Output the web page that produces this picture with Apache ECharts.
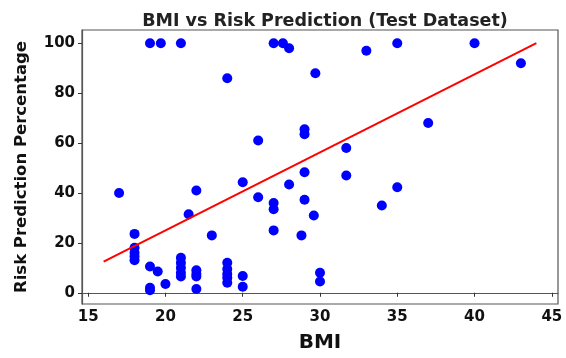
<!DOCTYPE html>
<html><head><meta charset="utf-8">
<script src="https://cdn.jsdelivr.net/npm/echarts@6/dist/echarts.min.js"></script>
<style>html,body{margin:0;padding:0;background:#fff}#c{width:566px;height:358px}</style>
</head><body><div id="c"></div>
<script>
const bmi  = [19,19.7,21,27,27.6,28,33,35,40,43,24,29.7,37,29,29,26,31.7,29,31.7,25,28,35,22,17,26,29,27,34,27,29.6,21.5,27,28.8,23,18,18,18,18,18,19,19.5,19,19,20,21,21,21,21,21,22,22,22,22,24,24,24,24,24,25,25,30,30];
const risk = [100,100,100,100,100,98,97,100,100,92,86,88,68,65.5,63.5,61,58,48.3,47,44.3,43.4,42.3,41,40,38.3,37.3,36,35,33.5,31,31.5,25,23,23,23.6,18,16,14.5,13,10.5,8.5,2,1,3.5,14,12,10,8,6.5,9,7.5,6.5,1.5,12,9.5,7.5,6,4,6.7,2.4,8,4.5];
const lineX = [16,44];
const lineY = [12.5,100];
const xTicks = [15,20,25,30,35,40,45];
const yTicks = [0,20,40,60,80,100];

const font = 'DejaVu Sans';
const chart = echarts.init(document.getElementById('c'), null, {renderer:'canvas'});
chart.setOption({
  backgroundColor:'#fff',
  animation:false,
  title:{text:'BMI vs Risk Prediction (Test Dataset)', left:320, top:7, textAlign:'center',
    textStyle:{fontFamily:font, fontWeight:'bold', fontSize:17.5, color:'#222'}},
  grid:{left:82, right:8, top:30, bottom:50, show:true, borderColor:'#555', borderWidth:1.2, backgroundColor:'#fff'},
  xAxis:{type:'value', min:14.6, max:45.4,
    name:'BMI', nameLocation:'middle', nameGap:29,
    nameTextStyle:{fontFamily:font, fontWeight:'bold', fontSize:20, color:'#111'},
    axisLine:{show:true, lineStyle:{color:'#555', width:1.2}},
    axisTick:{show:true, customValues:xTicks, length:4, lineStyle:{color:'#333'}},
    axisLabel:{customValues:xTicks, fontFamily:font, fontWeight:'bold', fontSize:15, color:'#111', margin:6},
    splitLine:{show:false}},
  yAxis:{type:'value', min:-4.5, max:105.3,
    name:'Risk Prediction Percentage', nameLocation:'middle', nameGap:52,
    nameTextStyle:{fontFamily:font, fontWeight:'bold', fontSize:16.5, color:'#111'},
    axisLine:{show:true, lineStyle:{color:'#555', width:1.2}},
    axisTick:{show:true, customValues:yTicks, length:4, lineStyle:{color:'#333'}},
    axisLabel:{customValues:yTicks, fontFamily:font, fontWeight:'bold', fontSize:15, color:'#111', margin:7},
    splitLine:{show:false}},
  series:[
    {type:'scatter', data:bmi.map((x,i)=>[x,risk[i]]), symbolSize:10, itemStyle:{color:'#0000ff', opacity:1}, z:2},
    {type:'line', data:lineX.map((x,i)=>[x,lineY[i]]), symbol:'none', lineStyle:{color:'#ff0000', width:2}, z:3}
  ]
});
</script></body></html>
